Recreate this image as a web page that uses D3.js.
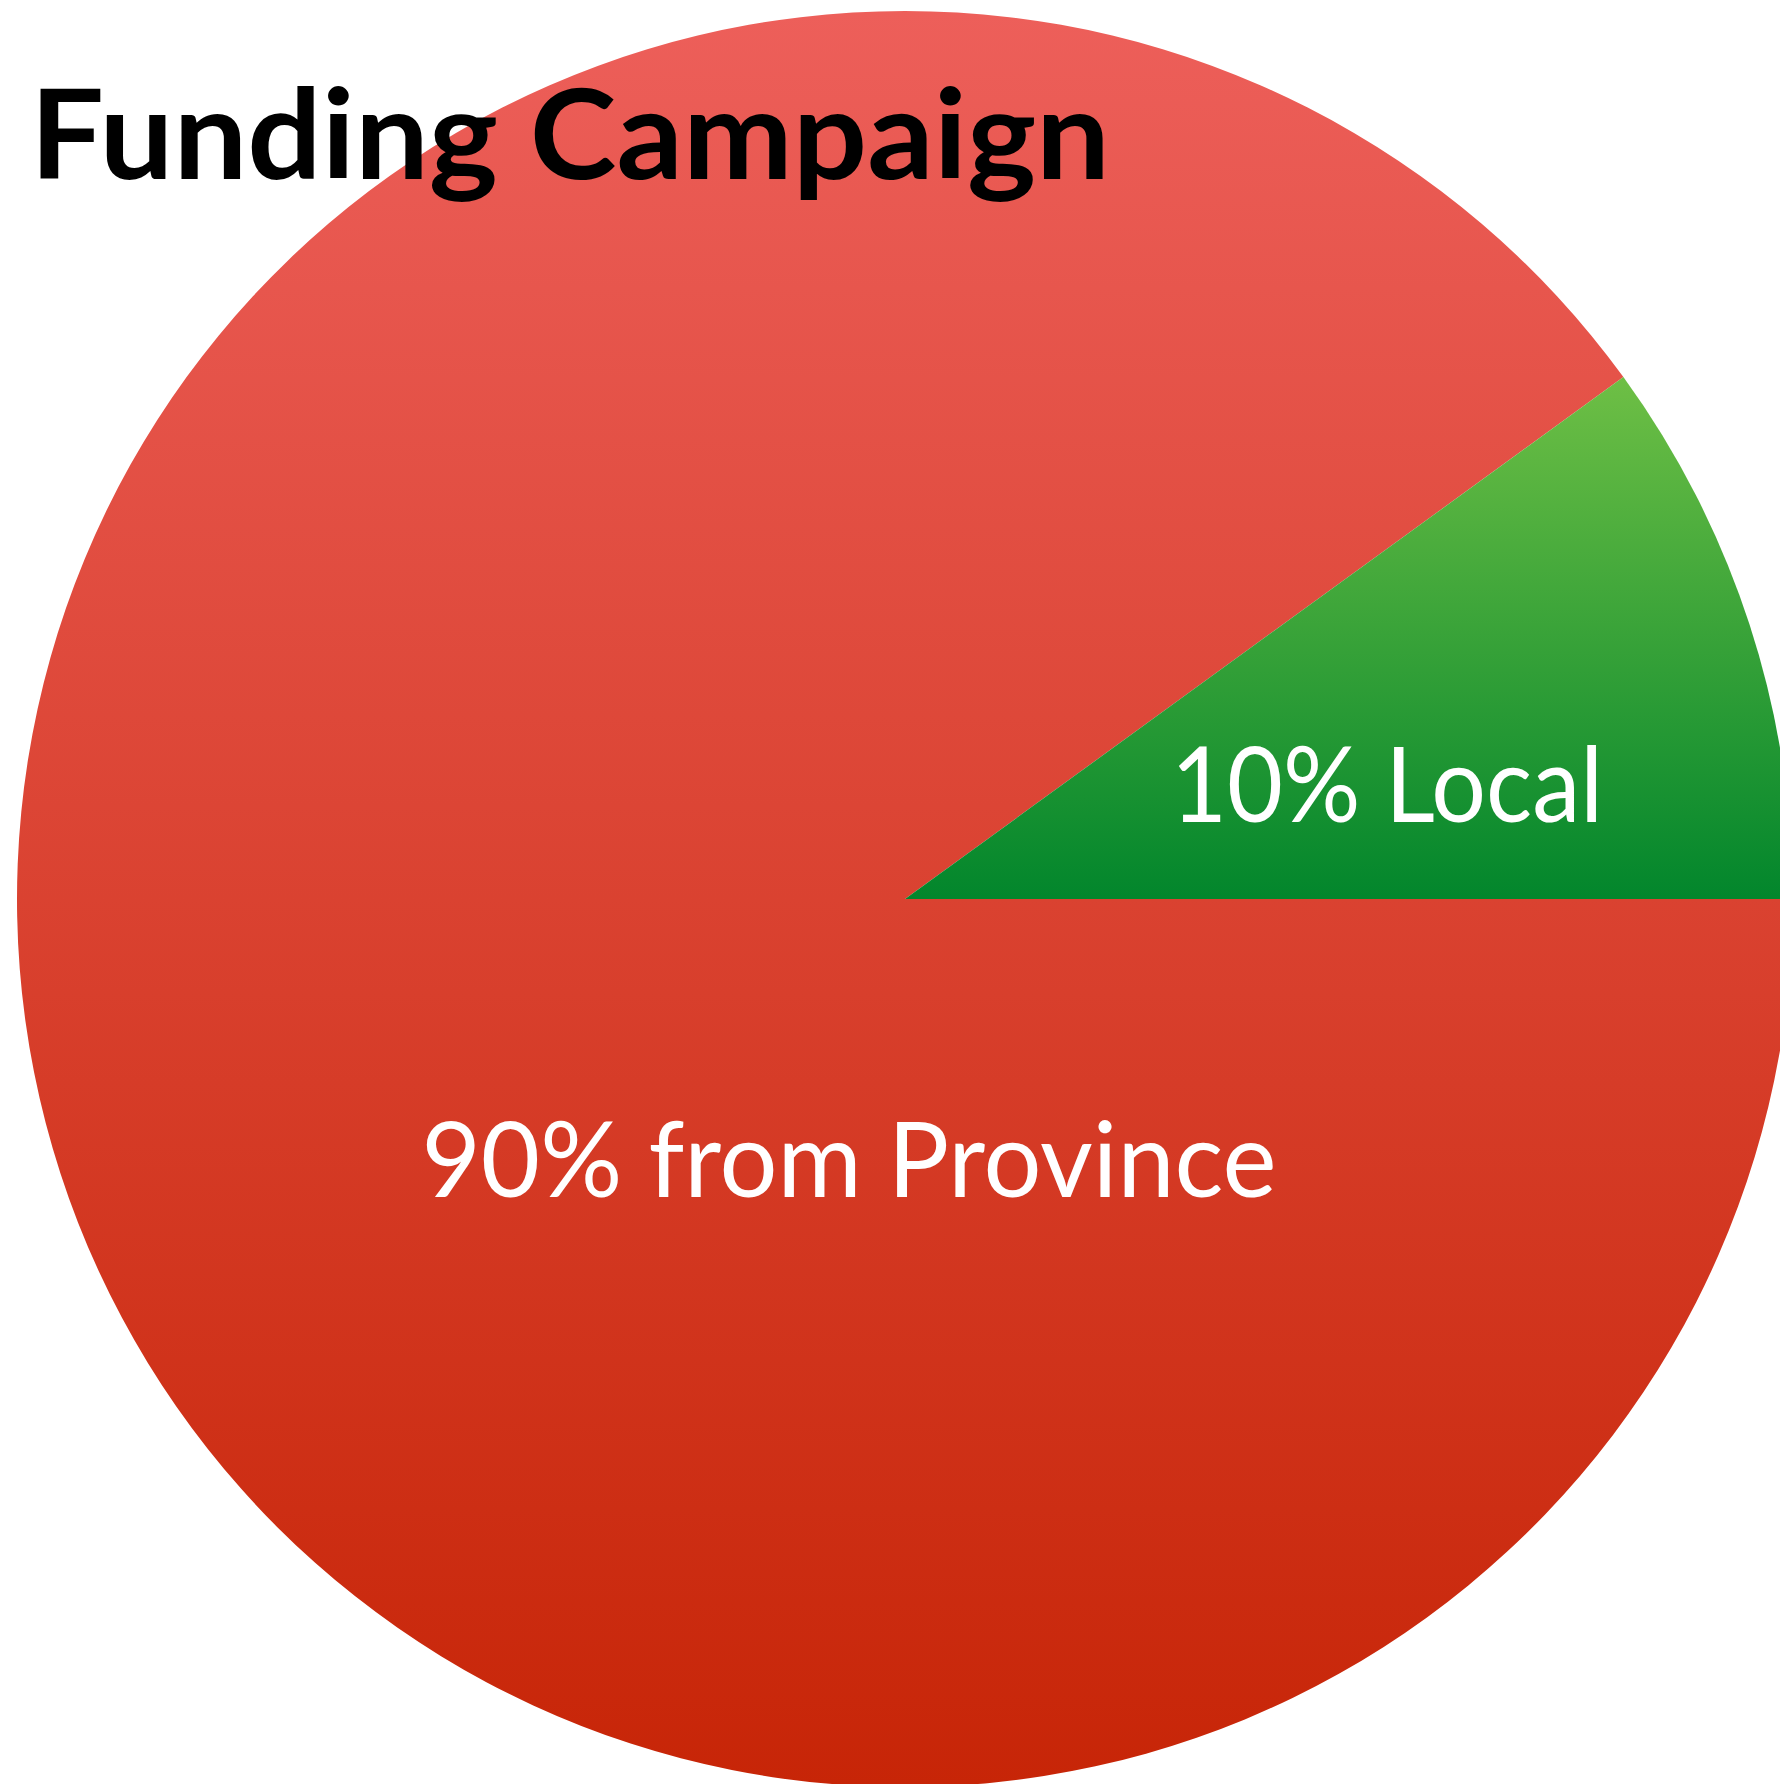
<!DOCTYPE html>
<html>
<head>
<meta charset="utf-8">
<script src="https://cdn.jsdelivr.net/npm/d3@7"></script>
<style>
  body { margin: 0; background: #fff; }
  svg { display: block; }
</style>
</head>
<body>
<svg id="chart"></svg>
<script>
// chart data
const categories = ['from Province', 'Local'];
const shares = [90, 10];
const title = 'Funding Campaign';

const W = 1780, H = 1784;
const cx = 905, cy = 899, radius = 888;

const svg = d3.select('#chart')
    .attr('width', W)
    .attr('height', H);

// gradients for the two slices (in the pie group's coordinates)
const defs = svg.append('defs');
const gradRed = defs.append('linearGradient')
    .attr('id', 'grad-red')
    .attr('gradientUnits', 'userSpaceOnUse')
    .attr('x1', 0).attr('x2', 0)
    .attr('y1', -radius).attr('y2', radius);
gradRed.append('stop').attr('offset', '0%').attr('stop-color', '#ed5f5a');
gradRed.append('stop').attr('offset', '100%').attr('stop-color', '#c72507');

const gradGreen = defs.append('linearGradient')
    .attr('id', 'grad-green')
    .attr('gradientUnits', 'userSpaceOnUse')
    .attr('x1', 0).attr('x2', 0)
    .attr('y1', -radius * Math.sin(Math.PI / 5)).attr('y2', 0);
gradGreen.append('stop').attr('offset', '0%').attr('stop-color', '#6ebf45');
gradGreen.append('stop').attr('offset', '100%').attr('stop-color', '#02862c');

const fills = ['url(#grad-red)', 'url(#grad-green)'];

// pie starts at 3 o'clock so the small slice sits just above the horizontal
const pie = d3.pie()
    .sort(null)
    .startAngle(Math.PI / 2)
    .endAngle(Math.PI / 2 + 2 * Math.PI);

const arc = d3.arc()
    .innerRadius(0)
    .outerRadius(radius);

const arcs = pie(shares);

const g = svg.append('g')
    .attr('transform', `translate(${cx}, ${cy})`);

g.selectAll('path.slice')
    .data(arcs)
    .join('path')
    .attr('class', 'slice')
    .attr('d', arc)
    .attr('fill', (d, i) => fills[i]);

// slice labels
const labelPos = [
    { x: 849 - cx, y: 1197 - cy, w: 855 },
    { x: 1387 - cx, y: 822 - cy, w: 432 }
];

g.selectAll('text.label')
    .data(arcs)
    .join('text')
    .attr('class', 'label')
    .attr('x', (d, i) => labelPos[i].x)
    .attr('y', (d, i) => labelPos[i].y)
    .attr('text-anchor', 'middle')
    .attr('fill', '#fff')
    .style('font-family', 'Lato, "Open Sans", sans-serif')
    .style('font-size', '104px')
    .attr('textLength', (d, i) => labelPos[i].w)
    .attr('lengthAdjust', 'spacingAndGlyphs')
    .text((d, i) => `${shares[i]}% ${categories[i]}`);

// title
svg.append('text')
    .attr('x', 30)
    .attr('y', 179)
    .attr('fill', '#000')
    .style('font-family', 'Lato, "Open Sans", sans-serif')
    .style('font-weight', 'bold')
    .style('font-size', '124px')
    .attr('textLength', 1080)
    .attr('lengthAdjust', 'spacingAndGlyphs')
    .text(title);
</script>
</body>
</html>
